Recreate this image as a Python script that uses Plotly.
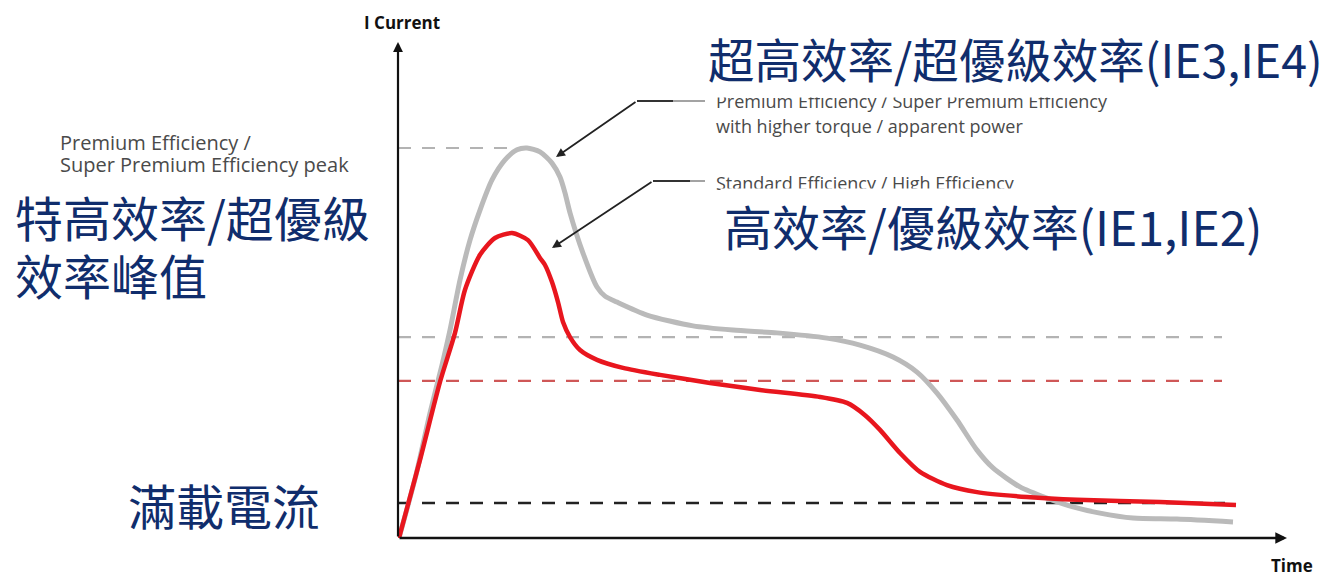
import plotly.graph_objects as go

# Time axis (arbitrary units) and current (multiples of full-load current)
gray_time = [0.01, 0.18, 0.32, 0.44, 0.52, 0.62, 0.72, 0.82, 0.94, 1.07, 1.19, 1.29,
             1.42, 1.54, 1.62, 1.67, 1.72, 1.85, 1.99, 2.07, 2.19, 2.49, 2.95, 3.35,
             3.79, 4.29, 4.62, 4.95, 5.19, 5.39, 5.59, 5.79, 5.95, 6.22, 6.49, 6.75,
             7.02, 7.35, 7.79, 8.35]
gray_current = [0.00, 1.80, 3.57, 4.94, 5.94, 7.37, 8.51, 9.37, 10.23, 10.80, 11.09, 11.14,
                11.03, 10.71, 10.31, 9.86, 9.29, 8.14, 7.17, 6.91, 6.74, 6.37, 6.06, 5.94,
                5.86, 5.71, 5.51, 5.17, 4.74, 4.14, 3.37, 2.51, 2.00, 1.46, 1.14, 0.89,
                0.71, 0.57, 0.54, 0.46]

red_time = [0.01, 0.22, 0.42, 0.57, 0.67, 0.82, 0.97, 1.14, 1.30, 1.42, 1.47, 1.54,
            1.60, 1.65, 1.72, 1.82, 1.99, 2.25, 2.62, 3.12, 3.62, 4.22, 4.49, 4.67,
            4.82, 5.02, 5.22, 5.49, 5.79, 6.29, 6.79, 7.62, 8.38]
red_current = [0.00, 2.23, 4.46, 5.86, 7.09, 8.09, 8.57, 8.71, 8.51, 8.00, 7.80, 7.31,
               6.74, 6.17, 5.74, 5.37, 5.09, 4.86, 4.66, 4.43, 4.23, 4.03, 3.86, 3.51,
               3.09, 2.43, 1.89, 1.51, 1.31, 1.17, 1.09, 1.03, 0.94]

# reference levels: premium peak, premium plateau, standard plateau, full-load
level_values = [11.14, 5.74, 4.49, 1.0]
level_ends = [1.27, 8.24, 8.24, 8.27]
level_colors = ['#b3b3b3', '#b3b3b3', '#cf5757', '#222222']
level_widths = [2, 2.2, 2.2, 2.6]

# plot area in reference pixels (the page body adds an 8px offset)
OFF = 8
L, T, W, H = 398, 42, 889, 496


def px(x):
    return (x - L) / W


def py(y):
    return (T + H - y) / H


NAVY = '#102d6c'
CJK = 'Noto Sans CJK TC'
SHIFT = 6  # CJK glyphs sit low in their box

fig = go.Figure()
for lvl, end, col, w in zip(level_values, level_ends, level_colors, level_widths):
    fig.add_trace(go.Scatter(
        x=[0, end], y=[lvl, lvl], mode='lines',
        line=dict(color=col, width=w, dash='13px,11px'),
        hoverinfo='skip', showlegend=False))

fig.add_trace(go.Scatter(
    x=gray_time, y=gray_current, mode='lines',
    line=dict(color='#bababa', width=5, shape='spline', smoothing=0.7),
    hoverinfo='skip', showlegend=False))
fig.add_trace(go.Scatter(
    x=red_time, y=red_current, mode='lines',
    line=dict(color='#e8161e', width=4.5, shape='spline', smoothing=0.7),
    hoverinfo='skip', showlegend=False))


def label(x, y, text, font, **kw):
    d = dict(xref='paper', yref='paper', x=px(x), y=py(y), text=text,
             showarrow=False, font=font, xanchor='left', yanchor='middle')
    d.update(kw)
    return d


annotations = []
# axes with arrowheads
annotations.append(dict(xref='paper', yref='paper', x=0, y=1, ax=0, ay=H,
                        text='', showarrow=True, arrowhead=2, arrowsize=0.9,
                        arrowwidth=2.2, arrowcolor='#111', standoff=0))
annotations.append(dict(xref='paper', yref='paper', x=1, y=0, ax=-W, ay=0,
                        text='', showarrow=True, arrowhead=2, arrowsize=0.9,
                        arrowwidth=2.6, arrowcolor='#111', standoff=0))
bold = dict(family='Open Sans', size=17, color='#111')
annotations.append(label(402, 22, '<b>I Current</b>', bold, xanchor='center'))
annotations.append(label(1292, 565, '<b>Time</b>', bold, xanchor='center'))

# callout arrows
annotations.append(dict(xref='paper', yref='paper', x=px(556), y=py(157),
                        ax=81, ay=-56, text='', showarrow=True, arrowhead=2,
                        arrowsize=1, arrowwidth=1.8, arrowcolor='#222', standoff=0))
annotations.append(dict(xref='paper', yref='paper', x=px(552), y=py(248),
                        ax=101, ay=-67, text='', showarrow=True, arrowhead=2,
                        arrowsize=1, arrowwidth=1.8, arrowcolor='#222', standoff=0))

grey_text = dict(family='Open Sans', size=18, color='#4a4a4a')
annotations.append(label(714, 101, 'Premium Efficiency / Super Premium Efficiency', grey_text))
annotations.append(label(714, 126, 'with higher torque / apparent power', grey_text))
annotations.append(label(714, 183, 'Standard Efficiency / High Efficiency', grey_text))
left_text = dict(family='Open Sans', size=20, color='#4a4a4a')
annotations.append(label(58, 142, 'Premium Efficiency /', left_text))
annotations.append(label(58, 165, 'Super Premium Efficiency peak', left_text))

# Chinese labels, the right ones on white boxes
big = dict(family=CJK, size=48, color=NAVY)
annotations.append(label(703, 57, '超高效率/超優級效率(IE3,IE4)',
                         dict(family=CJK, size=46.5, color=NAVY),
                         bgcolor='white', height=72, borderpad=4))
annotations.append(label(720, 231 - SHIFT, '高效率/優級效率(IE1,IE2)', big,
                         bgcolor='white', height=66, borderpad=3))
annotations.append(label(13, 222 - SHIFT, '特高效率/超優級', big))
annotations.append(label(13, 280 - SHIFT, '效率峰值', big))
annotations.append(label(126, 508 - 4, '滿載電流', big))

shapes = [
    dict(type='line', xref='paper', yref='paper', x0=px(637), x1=px(673),
         y0=py(101), y1=py(101), line=dict(color='#333', width=1.8)),
    dict(type='line', xref='paper', yref='paper', x0=px(673), x1=px(705),
         y0=py(101), y1=py(101), line=dict(color='#999', width=1.8)),
    dict(type='line', xref='paper', yref='paper', x0=px(653), x1=px(690),
         y0=py(181), y1=py(181), line=dict(color='#333', width=1.8)),
    dict(type='line', xref='paper', yref='paper', x0=px(690), x1=px(705),
         y0=py(181), y1=py(181), line=dict(color='#999', width=1.8)),
]

fig.update_layout(
    width=1335, height=576, autosize=False,
    margin=dict(l=L - OFF, r=1335 - (L - OFF) - W, t=T - OFF, b=576 - (T - OFF) - H),
    paper_bgcolor='white', plot_bgcolor='white',
    xaxis=dict(range=[0, 8.89], visible=False, fixedrange=True),
    yaxis=dict(range=[0, 14.17], visible=False, fixedrange=True),
    annotations=annotations, shapes=shapes,
)

fig.write_html('out.html')
